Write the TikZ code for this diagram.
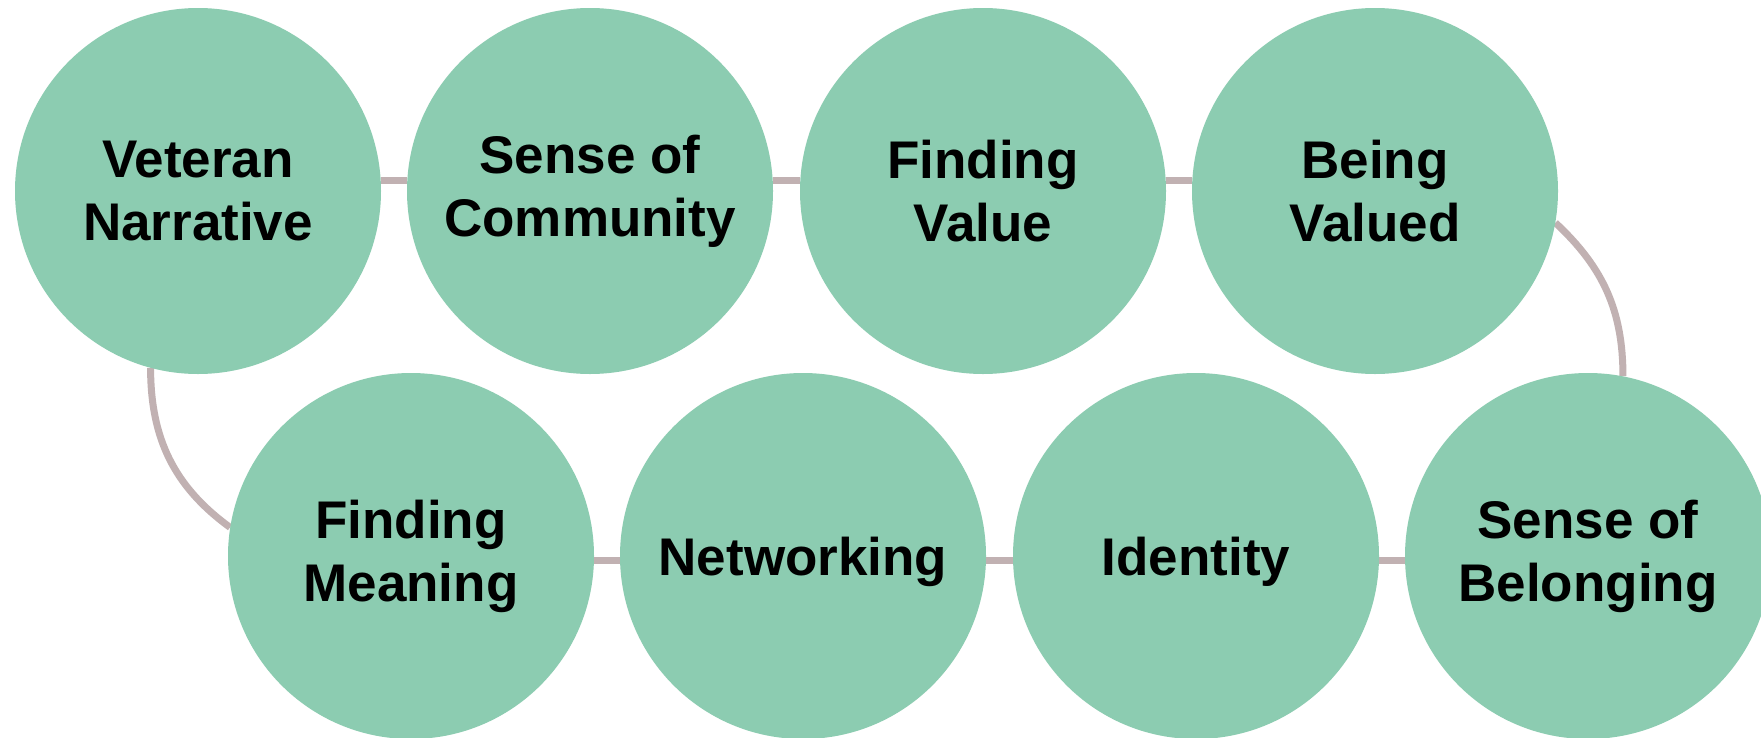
\documentclass[tikz,border=0pt]{standalone}
\usepackage{fontspec}
\setmainfont{Liberation Sans}
\usetikzlibrary{backgrounds}
\definecolor{bubble}{HTML}{8CCCB1}
\definecolor{linkcol}{HTML}{C1B1B2}
\begin{document}
\begin{tikzpicture}[x=1pt,y=1pt,
  bubble/.style={circle, fill=bubble, draw=none, minimum size=366pt, inner sep=0pt,
    align=center, font=\fontsize{53}{63}\selectfont\bfseries, text=black},
  oneline/.style={text height=38pt, text depth=0pt},
  link/.style={draw=linkcol, line width=7pt}]
\useasboundingbox (0,0) rectangle (1761,-737);
\clip (0,0) rectangle (1761,-737);
% top row
\node[bubble] (vet) at (198,-191) {Veteran\\Narrative};
\node[bubble] (com) at (590,-191) {Sense of\\Community};
\node[bubble] (fv)  at (983,-191) {Finding\\Value};
\node[bubble] (bv)  at (1375,-191) {Being\\Valued};
% bottom row
\node[bubble] (mean) at (411,-556) {Finding\\Meaning};
\node[bubble, oneline] (net)  at (803,-556) {Networking};
\node[bubble, oneline] (idt)  at (1196,-556) {Identity};
\node[bubble] (bel)  at (1588,-556) {Sense of\\Belonging};
% connectors behind the bubbles
\begin{scope}[on background layer]
  \fill[white] (0,0) rectangle (1761,-737);
  \draw[link] ([yshift=11pt]vet.east) -- ([yshift=11pt]com.west);
  \draw[link] ([yshift=11pt]com.east) -- ([yshift=11pt]fv.west);
  \draw[link] ([yshift=11pt]fv.east)  -- ([yshift=11pt]bv.west);
  \draw[link] ([yshift=-4pt]mean.east) -- ([yshift=-4pt]net.west);
  \draw[link] ([yshift=-4pt]net.east)  -- ([yshift=-4pt]idt.west);
  \draw[link] ([yshift=-4pt]idt.east)  -- ([yshift=-4pt]bel.west);
  \draw[link] (vet.255) to[out=-90, in=144] (mean.171);
  \draw[link] (bv.350) to[out=-43, in=90] (bel.79);
\end{scope}
\end{tikzpicture}
\end{document}
